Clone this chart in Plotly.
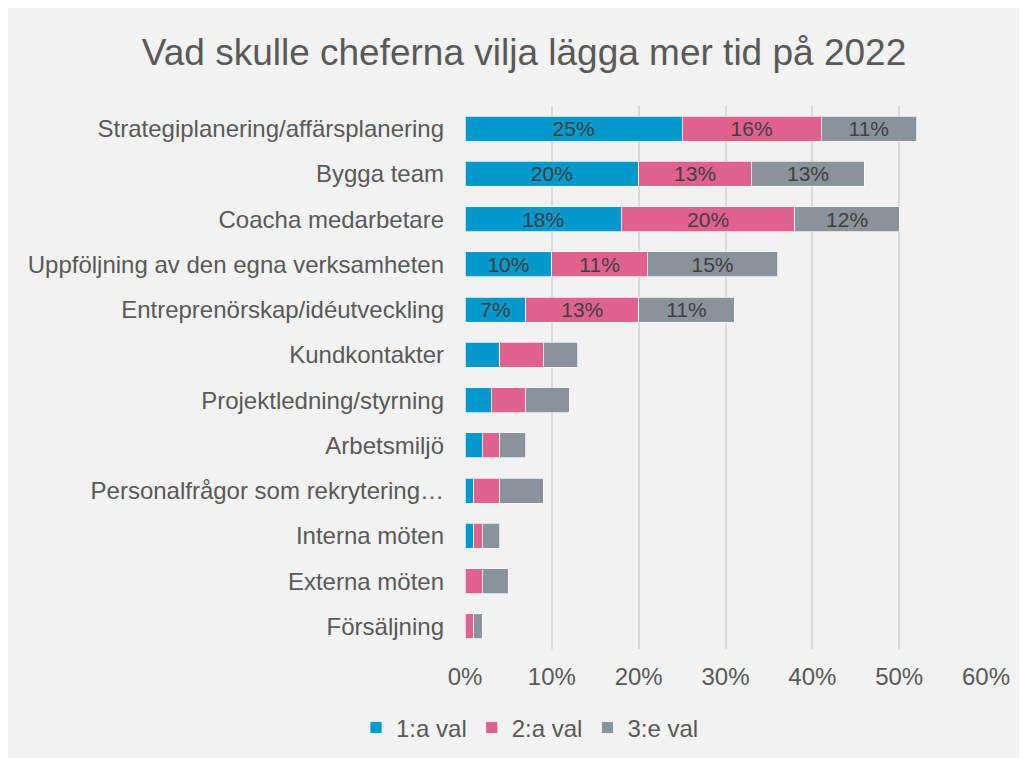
import plotly.graph_objects as go

categories = [
    "Strategiplanering/affärsplanering",
    "Bygga team",
    "Coacha medarbetare",
    "Uppföljning av den egna verksamheten",
    "Entreprenörskap/idéutveckling",
    "Kundkontakter",
    "Projektledning/styrning",
    "Arbetsmiljö",
    "Personalfrågor som rekrytering…",
    "Interna möten",
    "Externa möten",
    "Försäljning",
]
val1 = [25, 20, 18, 10, 7, 4, 3, 2, 1, 1, 0, 0]
val2 = [16, 13, 20, 11, 13, 5, 4, 2, 3, 1, 2, 1]
val3 = [11, 13, 12, 15, 11, 4, 5, 3, 5, 2, 3, 1]
labelled_rows = 5
series_names = ["1:a val", "2:a val", "3:e val"]
colors = ["#0099CC", "#E0608E", "#8A929C"]
x_ticks = [0, 10, 20, 30, 40, 50, 60]

FONT = "Liberation Sans, Arial, sans-serif"

fig = go.Figure()
for name, vals, col in zip(series_names, [val1, val2, val3], colors):
    texts = [f"{v}%" if i < labelled_rows else "" for i, v in enumerate(vals)]
    fig.add_trace(go.Bar(
        y=categories, x=vals, name=name, orientation="h",
        marker=dict(color=col, line=dict(color="rgba(255,255,255,0.7)", width=1)),
        text=texts, textposition="inside", insidetextanchor="middle",
        constraintext="none",
        textfont=dict(family=FONT, size=21, color="#404040"),
        hoverinfo="x+y+name",
    ))

W, H = 1030, 750
ml, mr, mt, mb = 457, 52, 98, 109

fig.update_layout(
    width=W, height=H, autosize=False,
    barmode="stack", bargap=0.45,
    paper_bgcolor="#F2F2F2", plot_bgcolor="#F2F2F2",
    margin=dict(l=ml, r=mr, t=mt, b=mb, pad=0),
    font=dict(family=FONT, color="#595959"),
    title=dict(text="Vad skulle cheferna vilja lägga mer tid på 2022",
               x=516 / W, xref="container", xanchor="center",
               y=1 - 44 / H, yref="container", yanchor="middle",
               font=dict(size=37, color="#595959", family=FONT)),
    legend=dict(orientation="h", xref="container", x=522 / W, xanchor="center",
                yref="container", y=1 - 720 / H, yanchor="middle",
                font=dict(size=24, color="#595959", family=FONT), traceorder="normal",
                itemwidth=30, bgcolor="rgba(0,0,0,0)"),
    showlegend=True,
)
fig.update_xaxes(range=[0, 60], tickvals=x_ticks, ticktext=[f"{t}%" for t in x_ticks],
                 showgrid=True, gridcolor="#D9D9D9", gridwidth=2, zeroline=False,
                 showline=False, ticks="", tickfont=dict(size=24, color="#595959", family=FONT),
                 ticklabelstandoff=11)
fig.update_yaxes(autorange="reversed", showgrid=False, showline=False, ticks="",
                 tickfont=dict(size=24, color="#595959", family=FONT), ticklabelstandoff=20)

fig.write_html("out.html")
